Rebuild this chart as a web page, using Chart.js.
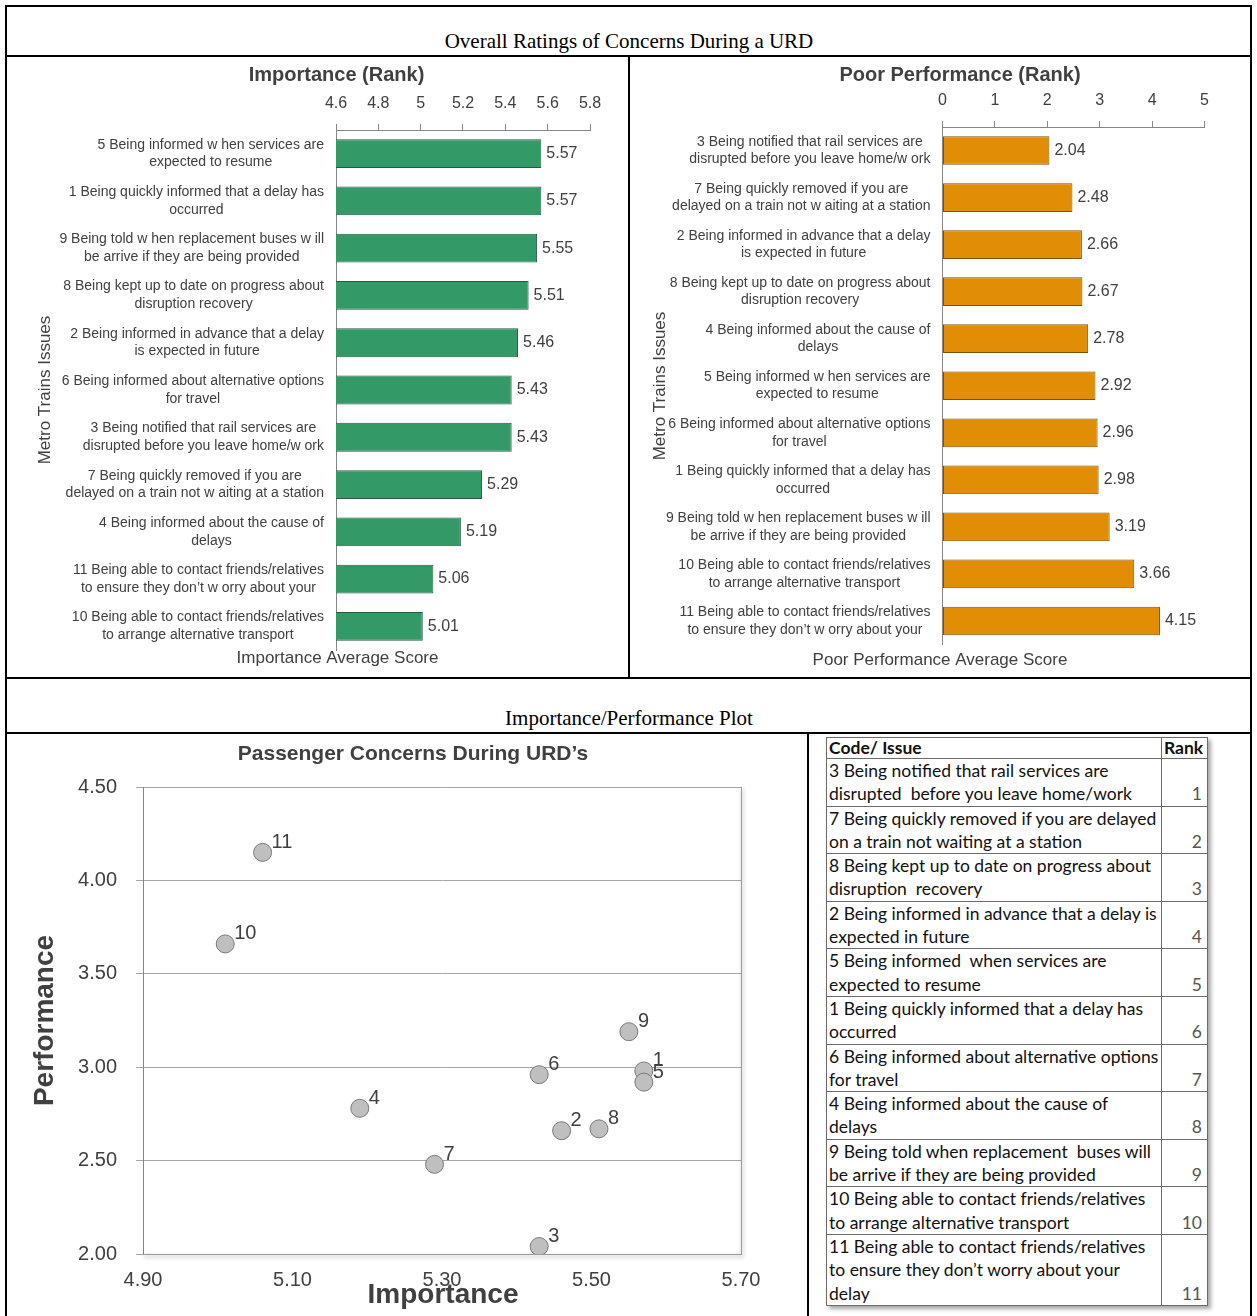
<!DOCTYPE html>
<html>
<head>
<meta charset="utf-8">
<title>Overall Ratings of Concerns During a URD</title>
<script src="https://cdn.jsdelivr.net/npm/chart.js@4.4.1/dist/chart.umd.min.js"></script>
<style>
  body { margin: 0; background: #fff; }
  #page { position: relative; width: 1257px; height: 1316px; overflow: hidden; }
  .rule { position: absolute; background: #000; }
  .cellTitle {
    position: absolute; left: 7px; width: 1244px; text-align: center;
    font-family: 'Liberation Serif', 'Times New Roman', serif; font-size: 21px; line-height: 24px; color: #000;
  }
  canvas { position: absolute; }
  #rankTable {
    position: absolute; left: 826px; top: 737px; border-collapse: collapse;
    font-family: Lato, 'Open Sans', sans-serif; font-size: 17.5px; line-height: 23.3px; color: #111;
    box-shadow: 3px 3px 4px rgba(0, 0, 0, 0.35);
  }
  #rankTable th, #rankTable td { border: 1.5px solid #6b6b6b; padding: 0 2px; white-space: nowrap; }
  #rankTable th { line-height: 20px; text-align: left; font-weight: bold; }
  #rankTable td.issue { width: 330px; vertical-align: top; }
  #rankTable td.rank { width: 38px; text-align: right; padding-right: 5px; vertical-align: bottom; color: #555; }
</style>
</head>
<body>
<div id="page">
  <div class="rule" style="left:5px;top:5px;width:1247px;height:2px"></div>
  <div class="rule" style="left:5px;top:5px;width:2px;height:1311px"></div>
  <div class="rule" style="left:1250px;top:5px;width:2px;height:1311px"></div>
  <div class="rule" style="left:5px;top:55px;width:1247px;height:2px"></div>
  <div class="rule" style="left:628px;top:55px;width:2px;height:624px"></div>
  <div class="rule" style="left:5px;top:677px;width:1247px;height:2px"></div>
  <div class="rule" style="left:5px;top:732px;width:1247px;height:2px"></div>
  <div class="rule" style="left:807px;top:732px;width:2px;height:584px"></div>

  <div class="cellTitle" style="top:29px">Overall Ratings of Concerns During a URD</div>
  <div class="cellTitle" style="top:706px">Importance/Performance Plot</div>

  <canvas id="importanceChart" width="621" height="618" style="left:7px;top:58px"></canvas>
  <canvas id="performanceChart" width="619" height="618" style="left:631px;top:58px"></canvas>
  <canvas id="plotChart" width="800" height="581" style="left:7px;top:735px"></canvas>

  <table id="rankTable"></table>
</div>

<script>
// Importance ranking, top bar first
const importanceLabels = [
  ['5 Being informed w hen services are', 'expected to resume'],
  ['1 Being quickly informed that a delay has', 'occurred'],
  ['9 Being told w hen replacement buses w ill', 'be arrive if they are being provided'],
  ['8 Being kept up to date on progress about', 'disruption recovery'],
  ['2 Being informed in advance that a delay', 'is expected in future'],
  ['6 Being informed about alternative options', 'for travel'],
  ['3 Being notified that rail services are', 'disrupted before you leave home/w ork'],
  ['7 Being quickly removed if you are', 'delayed on a train not w aiting at a station'],
  ['4 Being informed about the cause of', 'delays'],
  ['11 Being able to contact friends/relatives', 'to ensure they don\u2019t w orry about your'],
  ['10 Being able to contact friends/relatives', 'to arrange alternative transport']
];
const importanceScores = [5.57, 5.57, 5.55, 5.51, 5.46, 5.43, 5.43, 5.29, 5.19, 5.06, 5.01];
const importanceTicks = ['4.6', '4.8', '5', '5.2', '5.4', '5.6', '5.8'];

// Poor performance ranking, top bar first
const performanceLabels = [
  ['3 Being notified that rail services are', 'disrupted before you leave home/w ork'],
  ['7 Being quickly removed if you are', 'delayed on a train not w aiting at a station'],
  ['2 Being informed in advance that a delay', 'is expected in future'],
  ['8 Being kept up to date on progress about', 'disruption recovery'],
  ['4 Being informed about the cause of', 'delays'],
  ['5 Being informed w hen services are', 'expected to resume'],
  ['6 Being informed about alternative options', 'for travel'],
  ['1 Being quickly informed that a delay has', 'occurred'],
  ['9 Being told w hen replacement buses w ill', 'be arrive if they are being provided'],
  ['10 Being able to contact friends/relatives', 'to arrange alternative transport'],
  ['11 Being able to contact friends/relatives', 'to ensure they don\u2019t w orry about your']
];
const performanceScores = [2.04, 2.48, 2.66, 2.67, 2.78, 2.92, 2.96, 2.98, 3.19, 3.66, 4.15];
const performanceTicks = ['0', '1', '2', '3', '4', '5'];

// Importance vs performance per issue code
const issueCodes = ['1', '2', '3', '4', '5', '6', '7', '8', '9', '10', '11'];
const codeImportance = [5.57, 5.46, 5.43, 5.19, 5.57, 5.43, 5.29, 5.51, 5.55, 5.01, 5.06];
const codePerformance = [2.98, 2.66, 2.04, 2.78, 2.92, 2.96, 2.48, 2.67, 3.19, 3.66, 4.15];
const plotXTicks = ['4.90', '5.10', '5.30', '5.50', '5.70'];
const plotYTicks = ['2.00', '2.50', '3.00', '3.50', '4.00', '4.50'];

// Rank table
const rankIssues = [
  ['3 Being notified that rail services are', 'disrupted  before you leave home/work'],
  ['7 Being quickly removed if you are delayed', 'on a train not waiting at a station'],
  ['8 Being kept up to date on progress about', 'disruption  recovery'],
  ['2 Being informed in advance that a delay is', 'expected in future'],
  ['5 Being informed  when services are', 'expected to resume'],
  ['1 Being quickly informed that a delay has', 'occurred'],
  ['6 Being informed about alternative options', 'for travel'],
  ['4 Being informed about the cause of', 'delays'],
  ['9 Being told when replacement  buses will', 'be arrive if they are being provided'],
  ['10 Being able to contact friends/relatives', 'to arrange alternative transport'],
  ['11 Being able to contact friends/relatives', 'to ensure they don\u2019t worry about your', 'delay']
];
const rankValues = [1, 2, 3, 4, 5, 6, 7, 8, 9, 10, 11];

const FONT = "'Liberation Sans', Arial, sans-serif";
const TEXT = '#404040';
const AXIS = '#868686';
Chart.defaults.font.family = FONT;
Chart.defaults.color = TEXT;

// free text: chart titles and axis titles
const chartText = {
  id: 'chartText',
  afterDraw(chart, args, opts) {
    const ctx = chart.ctx;
    for (const t of opts.items || []) {
      ctx.save();
      ctx.font = t.font;
      ctx.fillStyle = TEXT;
      ctx.textAlign = 'center';
      ctx.textBaseline = 'middle';
      ctx.translate(t.x, t.y);
      if (t.rotate) ctx.rotate(-Math.PI / 2);
      ctx.fillText(t.text, 0, 0);
      ctx.restore();
    }
  }
};

// two-line category labels, each block centred on itself
const categoryLabels = {
  id: 'categoryLabels',
  afterDraw(chart, args, opts) {
    const {ctx, chartArea, scales} = chart;
    ctx.save();
    ctx.font = opts.font;
    ctx.fillStyle = TEXT;
    ctx.textAlign = 'center';
    ctx.textBaseline = 'middle';
    chart.data.labels.forEach((lines, i) => {
      const w = Math.max(...lines.map(l => ctx.measureText(l).width));
      const cx = chartArea.left - opts.gap - w / 2;
      const cy = scales.y.getPixelForValue(i);
      lines.forEach((l, j) => ctx.fillText(l, cx, cy + (j - (lines.length - 1) / 2) * opts.lineHeight));
    });
    ctx.restore();
  }
};

// value at the end of each bar
const barValues = {
  id: 'barValues',
  afterDatasetsDraw(chart, args, opts) {
    const ctx = chart.ctx;
    const values = chart.data.datasets[0].data;
    ctx.save();
    ctx.font = opts.font;
    ctx.fillStyle = TEXT;
    ctx.textAlign = 'left';
    ctx.textBaseline = 'middle';
    chart.getDatasetMeta(0).data.forEach((bar, i) => ctx.fillText(values[i].toFixed(2), bar.x + 5, bar.y));
    ctx.restore();
  }
};

// issue code next to each point
const pointCodes = {
  id: 'pointCodes',
  afterDatasetsDraw(chart, args, opts) {
    const ctx = chart.ctx;
    ctx.save();
    ctx.font = opts.font;
    ctx.fillStyle = TEXT;
    ctx.textAlign = 'left';
    ctx.textBaseline = 'middle';
    chart.getDatasetMeta(0).data.forEach((pt, i) => ctx.fillText(issueCodes[i], pt.x + 9, pt.y - 10));
    ctx.restore();
  }
};

// soft shadow along the bottom and right edges of the plot area
const plotShadow = {
  id: 'plotShadow',
  beforeDatasetsDraw(chart) {
    const {ctx, chartArea: a} = chart;
    ctx.save();
    ctx.strokeStyle = '#9a9a9a';
    ctx.lineWidth = 1;
    ctx.shadowColor = 'rgba(0,0,0,0.45)';
    ctx.shadowBlur = 4;
    ctx.shadowOffsetX = 1;
    ctx.shadowOffsetY = 2;
    ctx.beginPath();
    ctx.moveTo(a.left, a.bottom + 0.5);
    ctx.lineTo(a.right + 0.5, a.bottom + 0.5);
    ctx.lineTo(a.right + 0.5, a.top);
    ctx.stroke();
    ctx.restore();
  }
};

function rankChart(id, labels, scores, ticks, min, max, step, fill, edge, geom, texts) {
  return new Chart(document.getElementById(id), {
    type: 'bar',
    data: {
      labels: labels,
      datasets: [{
        data: scores,
        backgroundColor: fill,
        borderColor: edge,
        borderWidth: 1,
        borderSkipped: false,
        barPercentage: 0.61,
        categoryPercentage: 1
      }]
    },
    options: {
      indexAxis: 'y',
      responsive: false,
      animation: false,
      devicePixelRatio: 1,
      layout: {padding: {top: 0, left: 0, right: geom.right, bottom: geom.bottom}},
      scales: {
        x: {
          position: 'top',
          min: min,
          max: max,
          ticks: {stepSize: step, padding: 11, font: {size: 16}, color: TEXT, callback: (v, i) => ticks[i]},
          grid: {drawOnChartArea: false, drawTicks: true, tickLength: 6, color: AXIS},
          border: {display: true, color: AXIS},
          afterFit: s => { s.height = geom.top; }
        },
        y: {
          ticks: {display: false},
          grid: {display: false},
          border: {display: true, color: AXIS},
          afterFit: s => { s.width = geom.left; }
        }
      },
      plugins: {
        legend: {display: false},
        tooltip: {enabled: false},
        chartText: {items: texts},
        categoryLabels: {font: '14px ' + FONT, gap: 12, lineHeight: 17.7},
        barValues: {font: '16px ' + FONT}
      }
    },
    plugins: [chartText, categoryLabels, barValues]
  });
}

rankChart('importanceChart', importanceLabels, importanceScores, importanceTicks, 4.6, 5.8, 0.2,
  '#339966', '#245c40', {left: 329, top: 72, right: 38, bottom: 26}, [
    {text: 'Importance (Rank)', x: 329.5, y: 17, font: 'bold 20px ' + FONT},
    {text: 'Importance Average Score', x: 330.5, y: 600, font: '17px ' + FONT},
    {text: 'Metro Trains Issues', x: 38, y: 332, font: '17px ' + FONT, rotate: true}
  ]);

rankChart('performanceChart', performanceLabels, performanceScores, performanceTicks, 0, 5, 1,
  '#E18D06', '#7d5200', {left: 311.5, top: 69, right: 45.5, bottom: 31.5}, [
    {text: 'Poor Performance (Rank)', x: 329, y: 17, font: 'bold 20px ' + FONT},
    {text: 'Poor Performance Average Score', x: 309, y: 602, font: '17px ' + FONT},
    {text: 'Metro Trains Issues', x: 29, y: 328, font: '17px ' + FONT, rotate: true}
  ]);

new Chart(document.getElementById('plotChart'), {
  type: 'scatter',
  data: {
    datasets: [{
      data: codeImportance.map((x, i) => ({x: x, y: codePerformance[i]})),
      pointRadius: 9,
      pointBackgroundColor: '#BFBFBF',
      pointBorderColor: '#7A7A7A',
      pointBorderWidth: 1
    }]
  },
  options: {
    responsive: false,
    animation: false,
    devicePixelRatio: 1,
    layout: {padding: {top: 52, left: 0, right: 66, bottom: 0}},
    scales: {
      x: {
        type: 'linear',
        min: 4.9,
        max: 5.7,
        ticks: {stepSize: 0.2, padding: 14, font: {size: 20}, color: TEXT, callback: (v, i) => plotXTicks[i]},
        grid: {display: false, drawTicks: false},
        border: {display: true, color: AXIS},
        afterFit: s => { s.height = 62; }
      },
      y: {
        min: 2,
        max: 4.5,
        ticks: {stepSize: 0.5, padding: 19, font: {size: 20}, color: TEXT, callback: (v, i) => plotYTicks[i]},
        grid: {color: '#A6A6A6', tickLength: 7},
        border: {display: true, color: AXIS},
        afterFit: s => { s.width = 136; }
      }
    },
    plugins: {
      legend: {display: false},
      tooltip: {enabled: false},
      chartText: {items: [
        {text: 'Passenger Concerns During URD\u2019s', x: 406, y: 19, font: 'bold 21px ' + FONT},
        {text: 'Performance', x: 38, y: 285.5, font: 'bold 28px ' + FONT, rotate: true},
        {text: 'Importance', x: 436, y: 560, font: 'bold 28px ' + FONT}
      ]},
      pointCodes: {font: '20px ' + FONT}
    }
  },
  plugins: [plotShadow, chartText, pointCodes]
});

// rank table rows
const table = document.getElementById('rankTable');
table.innerHTML = '<tr><th>Code/ Issue</th><th>Rank</th></tr>' +
  rankIssues.map((lines, i) =>
    '<tr><td class="issue">' + lines.map(l => l.replace(/  /g, ' &nbsp;')).join('<br>') +
    '</td><td class="rank">' + rankValues[i] + '</td></tr>').join('');
</script>
</body>
</html>
